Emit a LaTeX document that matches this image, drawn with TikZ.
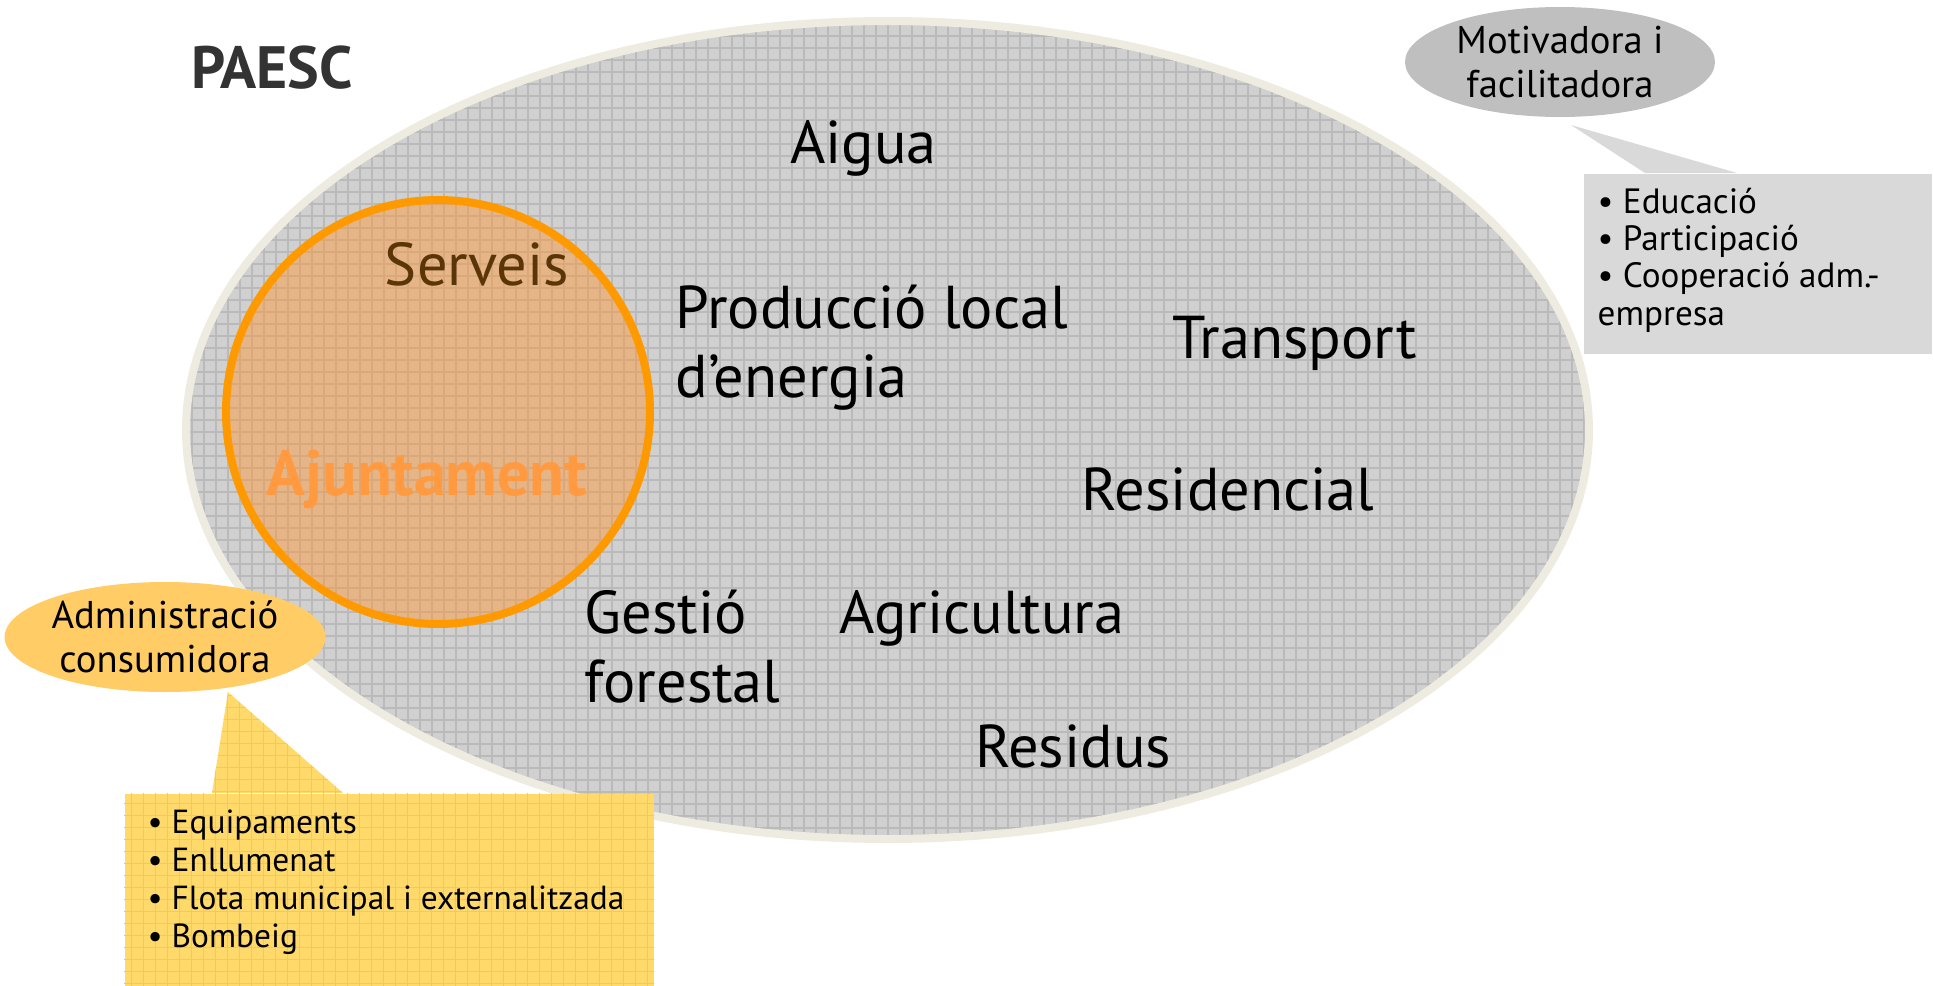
\documentclass[tikz,border=0pt]{standalone}
\usepackage{fontspec}
\setmainfont{PT Sans}
\usetikzlibrary{shapes.geometric}

\definecolor{paescgray}{HTML}{D0D0D0}
\definecolor{paescgrid}{HTML}{BABABA}
\definecolor{paescrim}{HTML}{EEECE1}
\definecolor{ajorange}{HTML}{FF9900}
\definecolor{ajfill}{HTML}{FF9630}
\definecolor{ajtext}{HTML}{FF9A40}
\definecolor{serveisbrown}{HTML}{5A3508}
\definecolor{motivfill}{HTML}{BFBFBF}
\definecolor{motivboxfill}{HTML}{D9D9D9}
\definecolor{consumfill}{HTML}{FFCC66}
\definecolor{consumboxfill}{HTML}{FFDA6A}
\definecolor{consumgrid}{HTML}{F8C850}

\tikzset{
    sector/.style={font=\fontsize{17.2}{19.6}\selectfont, inner sep=0pt, align=left},
    bubble/.style={ellipse, minimum width=31mm, minimum height=11mm, inner sep=0pt, align=center, font=\fontsize{11}{12.5}\selectfont},
    bulletlist/.style={font=\fontsize{9.5}{10.8}\selectfont, inner sep=0pt, align=left},
}

\begin{document}
\begin{tikzpicture}[x=0.1mm, y=-0.1mm]
    \useasboundingbox (0,0) rectangle (1934,986);

    % PAESC ellipse
    \fill[paescgray] (887.5,430) ellipse (70.15mm and 40.9mm);
    \begin{scope}
        \clip (887.5,430) ellipse (70.15mm and 40.9mm);
        \draw[paescgrid, line width=0.12mm, step=1.2mm] (180,10) grid (1600,850);
    \end{scope}
    \draw[paescrim, line width=0.8mm] (887.5,430) ellipse (70.15mm and 40.9mm);

    % Ajuntament
    \draw[ajorange, line width=0.8mm, fill=ajfill, fill opacity=0.45] (438,412) circle (21.2mm);
    \node[sector, anchor=base, text=serveisbrown] (serveis) at (477,285) {Serveis};
    \node[sector, anchor=base, text=ajtext, font=\fontsize{18.2}{19.6}\selectfont\bfseries] (ajuntament) at (427,495) {Ajuntament};

    \node[sector, anchor=base, text=black!80, font=\fontsize{17}{19.6}\selectfont\bfseries] (paesc) at (272,88) {PAESC};
    \node[sector, anchor=base] (aigua) at (863.5,163) {Aigua};
    \node[sector, anchor=base west] (produccio) at (675,397) {Producció local\\d’energia};
    \node[sector, anchor=base] (transport) at (1294.5,358) {Transport};
    \node[sector, anchor=base] (residencial) at (1228,510) {Residencial};
    \node[sector, anchor=base west] (gestio) at (584,702) {Gestió\\forestal};
    \node[sector, anchor=base] (agricultura) at (982,633) {Agricultura};
    \node[sector, anchor=base] (residus) at (1073,767) {Residus};

    % motivadora callout
    \node[fill=motivboxfill, minimum width=34.8mm, minimum height=18mm, inner sep=0pt, anchor=north west] (motivbox) at (1583,173) {};
    \coordinate (motivtip) at (1571,125);
    \fill[motivboxfill] (motivtip) -- ([xshift=6.2mm]motivbox.north west) -- ([xshift=15.4mm]motivbox.north west) -- cycle;
    \node[bubble, fill=motivfill] (motiv) at (1560,62) {Motivadora i\\facilitadora};
    \node[bulletlist, font=\fontsize{10}{10.6}\selectfont, anchor=base west] (motivlist) at (1597,325) {• Educació\\• Participació\\• Cooperació adm.-\\empresa};

    % consumidora callout
    \node[fill=consumboxfill, minimum width=52.9mm, minimum height=19.3mm, inner sep=0pt, anchor=north west] (consumbox) at (124,793) {};
    \coordinate (consumtip) at (228,692);
    \fill[consumboxfill] (consumtip) -- ([xshift=8.8mm]consumbox.north west) -- ([xshift=21.9mm]consumbox.north west) -- cycle;
    \begin{scope}
        \clip (consumtip) -- ([xshift=8.8mm]consumbox.north west) -- ([xshift=21.9mm]consumbox.north west) -- cycle
              (consumbox.north west) rectangle (consumbox.south east);
        \draw[consumgrid, line width=0.1mm, step=1.2mm] (100,680) grid (660,990);
    \end{scope}
    \node[bubble, fill=consumfill] (consum) at (165,637) {Administració\\consumidora};
    \node[bulletlist, anchor=base west] (consumlist) at (147,947) {• Equipaments\\• Enllumenat\\• Flota municipal i externalitzada\\• Bombeig};
\end{tikzpicture}
\end{document}
